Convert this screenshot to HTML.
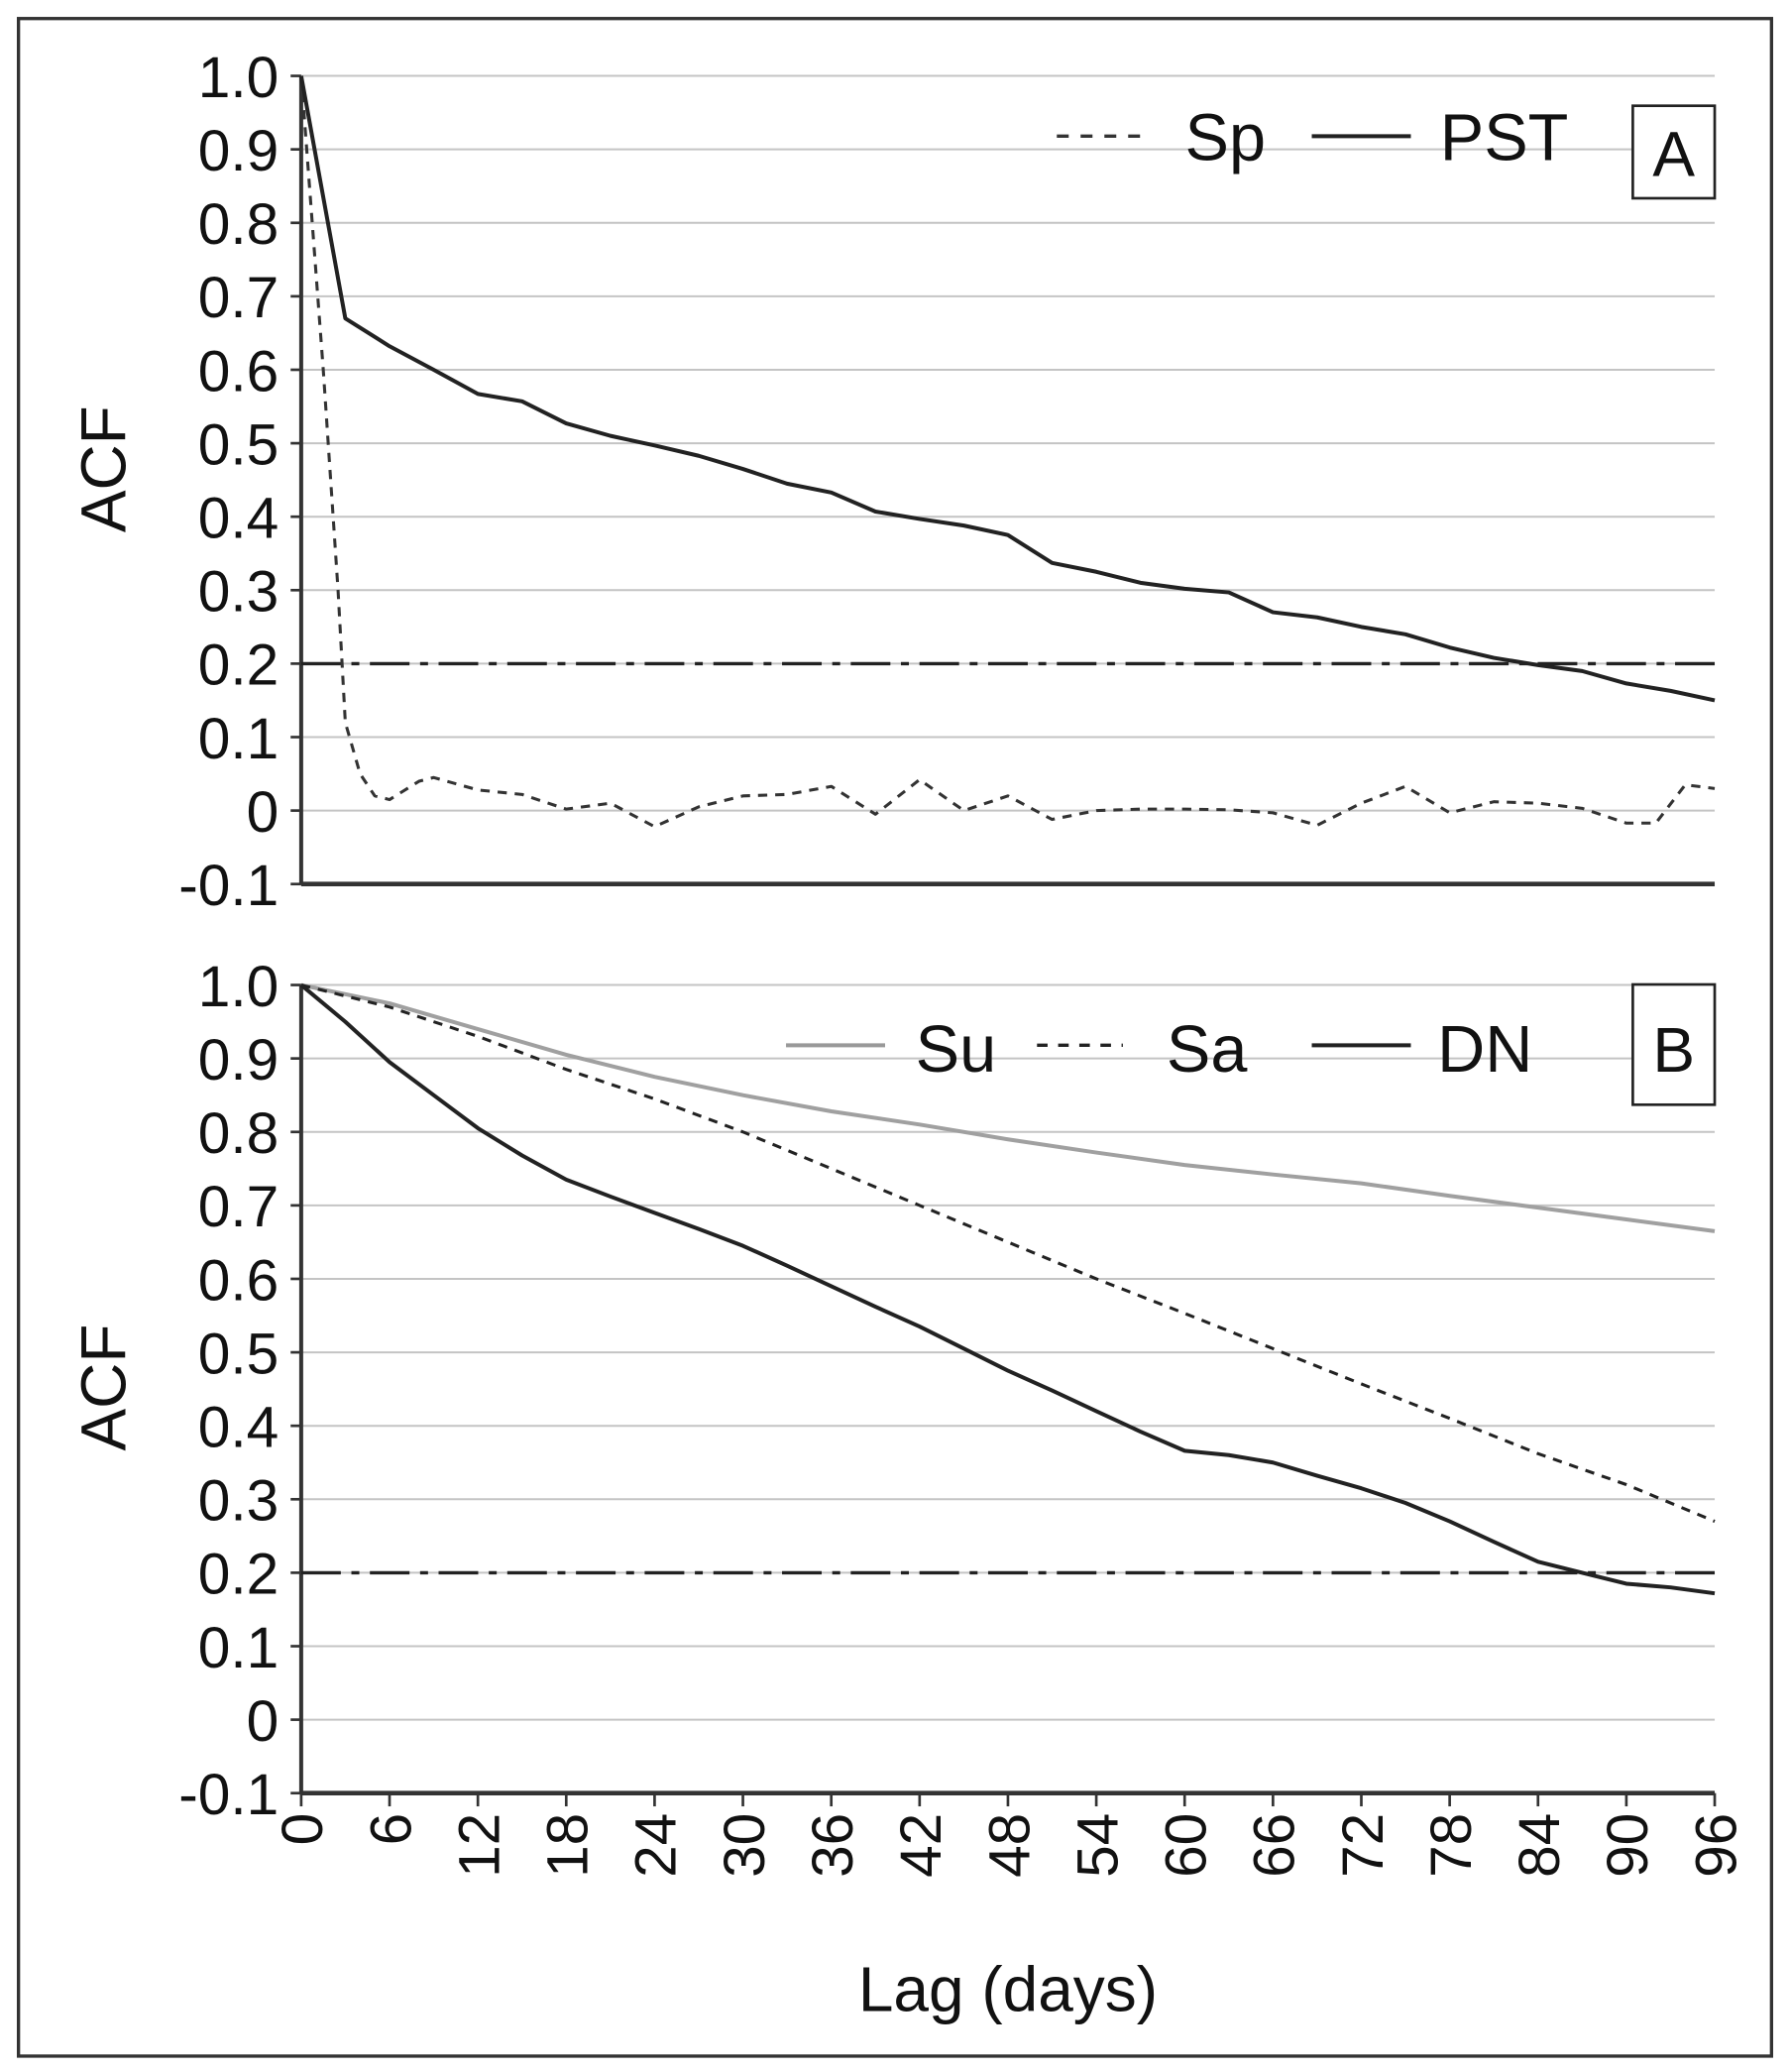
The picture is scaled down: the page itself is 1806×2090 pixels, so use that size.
<!DOCTYPE html>
<html><head><meta charset="utf-8"><style>
html,body{margin:0;padding:0;background:#fff;}
svg{display:block;}
text{font-family:"Liberation Sans",Arial,sans-serif;fill:#111;}
</style></head><body>
<svg id="s" width="1806" height="2090" viewBox="0 0 1355 1568" xmlns="http://www.w3.org/2000/svg">
<rect x="14" y="14" width="1327" height="1542" fill="none" stroke="#333" stroke-width="2.5"/>
<g id="g"></g>
<line x1="800" y1="103" x2="865" y2="103" stroke="#333" stroke-width="2.5" stroke-dasharray="9,9"/>
<text x="897" y="121" font-size="50">Sp</text>
<line x1="993" y1="103" x2="1068" y2="103" stroke="#222" stroke-width="3"/>
<text x="1090" y="121" font-size="50">PST</text>
<rect x="1236" y="80" width="62" height="70" fill="#fff" stroke="#222" stroke-width="2"/>
<text x="1267" y="133" font-size="48" text-anchor="middle">A</text>

<line x1="595" y1="791" x2="670" y2="791" stroke="#999" stroke-width="3"/>
<text x="693" y="811" font-size="50">Su</text>
<line x1="785" y1="791" x2="850" y2="791" stroke="#222" stroke-width="2.5" stroke-dasharray="8,8"/>
<text x="883" y="811" font-size="50">Sa</text>
<line x1="993" y1="791" x2="1068" y2="791" stroke="#222" stroke-width="3"/>
<text x="1088" y="811" font-size="50">DN</text>
<rect x="1236" y="745" width="62" height="91" fill="#fff" stroke="#222" stroke-width="2"/>
<text x="1267" y="811" font-size="48" text-anchor="middle">B</text>

<text transform="translate(95,355) rotate(-90)" font-size="48" text-anchor="middle">ACF</text>
<text transform="translate(95,1050) rotate(-90)" font-size="48" text-anchor="middle">ACF</text>
<text x="763" y="1522" font-size="48" text-anchor="middle">Lag (days)</text>
</svg>
<script>
var g=document.getElementById('g'),h='';
var X0=228,X1=1298;
function x(d){return X0+d*(X1-X0)/96;}
function yA(v){return 613.4-556*v;}
function yB(v){return 1301.4-556*v;}
function grid(yf){
  for(var i=-1;i<=10;i++){var v=i/10,y=yf(v);
    if(i>-1)h+='<line x1="'+X0+'" y1="'+y+'" x2="'+X1+'" y2="'+y+'" stroke="#c4c4c4" stroke-width="1.5"/>';
    h+='<line x1="'+(X0-8)+'" y1="'+y+'" x2="'+X0+'" y2="'+y+'" stroke="#333" stroke-width="2"/>';
    var t=i==10?'1.0':(i==0?'0':(i==-1?'-0.1':v.toFixed(1)));
    h+='<text x="211" y="'+(y+16)+'" font-size="44" text-anchor="end">'+t+'</text>';
  }
  h+='<line x1="'+X0+'" y1="'+yf(1)+'" x2="'+X0+'" y2="'+yf(-0.1)+'" stroke="#333" stroke-width="3"/>';
  h+='<line x1="'+X0+'" y1="'+yf(-0.1)+'" x2="'+X1+'" y2="'+yf(-0.1)+'" stroke="#333" stroke-width="3.5"/>';
  h+='<line x1="'+X0+'" y1="'+yf(0.2)+'" x2="'+X1+'" y2="'+yf(0.2)+'" stroke="#222" stroke-width="2.5" stroke-dasharray="30,8,6,8"/>';
}
function path(pts,yf,st){
  var s='';for(var i=0;i<pts.length;i+=2)s+=(i?'L':'M')+x(pts[i]).toFixed(1)+','+yf(pts[i+1]).toFixed(1);
  h+='<path d="'+s+'" fill="none" stroke-linejoin="round" '+st+'/>';
}
grid(yA);grid(yB);
path([0,1,1.5,0.6,2.5,0.3,3,0.12,4,0.05,5,0.02,6,0.015,8,0.04,9,0.045,12,0.028,15,0.022,18,0.002,21,0.01,24,-0.022,27,0.005,30,0.02,33,0.022,36,0.033,39,-0.005,42,0.042,45,0,48,0.02,51,-0.012,54,0,57,0.002,60,0.002,63,0.001,66,-0.003,69,-0.02,72,0.01,75,0.033,78,-0.003,81,0.012,84,0.01,87,0.003,90,-0.017,92,-0.017,94,0.035,96,0.03],yA,'stroke="#333" stroke-width="2.3" stroke-dasharray="7,6"');
path([0,1,3,0.67,6,0.632,9,0.60,12,0.567,15,0.557,18,0.527,21,0.51,24,0.497,27,0.483,30,0.465,33,0.445,36,0.433,39,0.407,42,0.397,45,0.388,48,0.375,51,0.337,54,0.325,57,0.31,60,0.302,63,0.297,66,0.27,69,0.263,72,0.25,75,0.24,78,0.222,81,0.208,84,0.198,87,0.19,90,0.173,93,0.163,96,0.15],yA,'stroke="#222" stroke-width="3"');
path([0,1,6,0.975,12,0.94,18,0.905,24,0.875,30,0.85,36,0.828,42,0.81,48,0.79,54,0.772,60,0.755,66,0.742,72,0.73,78,0.713,84,0.697,90,0.681,96,0.665],yB,'stroke="#a0a0a0" stroke-width="3"');
path([0,1,6,0.97,12,0.93,18,0.885,24,0.845,30,0.80,36,0.75,42,0.70,48,0.65,54,0.60,60,0.553,66,0.505,72,0.457,78,0.41,84,0.362,90,0.32,96,0.27],yB,'stroke="#222" stroke-width="2.3" stroke-dasharray="7,6"');
path([0,1,3,0.95,6,0.895,9,0.85,12,0.805,15,0.768,18,0.735,21,0.712,24,0.69,27,0.668,30,0.645,33,0.618,36,0.59,39,0.562,42,0.535,45,0.505,48,0.475,51,0.448,54,0.42,57,0.392,60,0.366,63,0.36,66,0.35,69,0.332,72,0.315,75,0.295,78,0.27,81,0.242,84,0.215,87,0.2,90,0.185,93,0.18,96,0.172],yB,'stroke="#222" stroke-width="3"');
for(var d=0;d<=96;d+=6){var xx=x(d);
  h+='<line x1="'+xx+'" y1="1357" x2="'+xx+'" y2="1367" stroke="#333" stroke-width="2"/>';
  h+='<text transform="translate('+(xx+16)+',1372) rotate(-90)" font-size="44" text-anchor="end">'+d+'</text>';}
g.innerHTML=h;
</script>
</body></html>
